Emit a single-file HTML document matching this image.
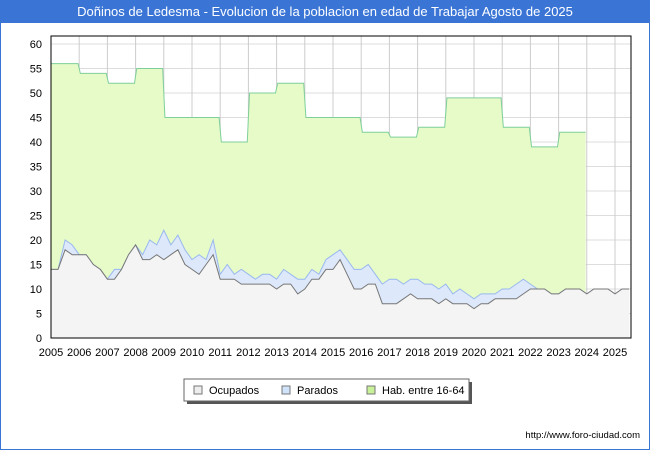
<!DOCTYPE html>
<html><head><meta charset="utf-8"><style>
body{margin:0;background:#fff;font-family:"Liberation Sans","DejaVu Sans",sans-serif}
#wrap{position:relative;width:648px;height:448px;border:1px solid #3a75d6;overflow:hidden}
#title{position:absolute;left:0;top:0;width:648px;height:22px;background:#3a75d6;color:#fff;font-size:13px;text-align:center;line-height:22px}
svg{position:absolute;left:0;top:0}
text{font-family:"Liberation Sans",sans-serif}
</style></head><body>
<div id="wrap">
<div id="title">Doñinos de Ledesma - Evolucion de la poblacion en edad de Trabajar Agosto de 2025</div>
<svg id="svg" width="650" height="450"></svg>
</div>
<script>
const years=[2005,2006,2007,2008,2009,2010,2011,2012,2013,2014,2015,2016,2017,2018,2019,2020,2021,2022,2023];
const habValues=[56,54,52,55,45,45,40,50,52,45,45,42,41,43,49,49,43,39,42];
const ocupados=[14,14,18,17,17,17,15,14,12,12,14,17,19,16,16,17,16,17,18,15,14,13,15,17,12,12,12,11,11,11,11,11,10,11,11,9,10,12,12,14,14,16,13,10,10,11,11,7,7,7,8,9,8,8,8,7,8,7,7,7,6,7,7,8,8,8,8,9,10,10,10,9,9,10,10,10,9,10,10,10,9,10,10];
const totalActivos=[14,14,20,19,17,17,15,14,12,14,14,17,19,17,20,19,22,19,21,18,16,17,16,20,13,15,13,14,13,12,13,13,12,14,13,12,12,14,13,16,17,18,16,14,14,15,13,11,12,12,11,12,12,11,11,10,11,9,10,9,8,9,9,9,10,10,11,12,11,10,10,9,9,10,10,10,9,10,10,10,9,10,10];
const yTicks=[0,5,10,15,20,25,30,35,40,45,50,55,60];
const xTicks=[2005,2006,2007,2008,2009,2010,2011,2012,2013,2014,2015,2016,2017,2018,2019,2020,2021,2022,2023,2024,2025];
const L=50,R=630,T=35,B=337;
const X=t=>L+(t-2005)*28.2;
const Y=v=>B-v*(294/60);
const svg=document.getElementById('svg');
const NS='http://www.w3.org/2000/svg';
function mk(tag,attrs,parent){const e=document.createElementNS(NS,tag);for(const k in attrs)e.setAttribute(k,attrs[k]);(parent||svg).appendChild(e);return e;}
mk('rect',{x:L,y:T,width:R-L,height:B-T,fill:'#fff'});
const grid=mk('g',{});


yTicks.forEach(v=>{mk('line',{x1:L,x2:R,y1:Y(v),y2:Y(v),stroke:'#dddddd'},grid);
 const t=mk('text',{x:L-9,y:Y(v)+4,'text-anchor':'end','font-size':11,fill:'#000'});t.textContent=v;
 
 });
xTicks.forEach(yr=>{mk('line',{x1:X(yr),x2:X(yr),y1:T,y2:B,stroke:'#cccccc'},grid);
 const t=mk('text',{x:X(yr),y:B+18,'text-anchor':'middle','font-size':11,fill:'#000'});t.textContent=yr;
 
 });
let hp=[];years.forEach((yr,i)=>{hp.push([X(yr+0.04),Y(habValues[i])]);hp.push([X(yr+0.96),Y(habValues[i])]);});
hp[0][0]=X(years[0]);
const hLine=hp.map(p=>p.join(',')).join(' ');
const hab=mk('polygon',{points:`${X(years[0])},${Y(0)} ${hLine} ${X(years[years.length-1]+0.96)},${Y(0)}`,fill:'#e6fbc8',stroke:'none'});


const habL=mk('polyline',{points:hLine,fill:'none',stroke:'#7fcf9a','stroke-width':1});


const q=i=>2005+i*0.25;
const tp=totalActivos.map((v,i)=>[X(q(i)),Y(v)]);
const op=ocupados.map((v,i)=>[X(q(i)),Y(v)]);
const tS=tp.map(p=>p.join(',')).join(' '), oS=op.map(p=>p.join(',')).join(' ');
const par=mk('polygon',{points:`${X(q(0))},${Y(0)} ${tS} ${X(q(totalActivos.length-1))},${Y(0)}`,fill:'#dde9fb'});


const parL=mk('polyline',{points:tS,fill:'none',stroke:'#9ab8ee','stroke-width':1});


const oc=mk('polygon',{points:`${X(q(0))},${Y(0)} ${oS} ${X(q(ocupados.length-1))},${Y(0)}`,fill:'#f4f4f4'});


const ocL=mk('polyline',{points:oS,fill:'none',stroke:'#777','stroke-width':1});


const fr=mk('rect',{x:L,y:T,width:R-L,height:B-T,fill:'none',stroke:'#000'});


const lg=mk('g',{});


mk('rect',{x:186,y:381,width:285,height:22,fill:'#555'},lg);
mk('rect',{x:183,y:378,width:285,height:22,fill:'#fff',stroke:'#666'},lg);
[['Ocupados','#eeeeee',193],['Parados','#cfe3fb',281],['Hab. entre 16-64','#c8f29a',366]].forEach(([n,c,x])=>{
 const g=mk('g',{},lg);
 
 
 mk('rect',{x:x,y:385,width:8,height:8,fill:c,stroke:'#777'},g);
 const t=mk('text',{x:x+15,y:393,'font-size':11,fill:'#000'},g);t.textContent=n;});
const u=mk('text',{x:639,y:437,'text-anchor':'end','font-size':9.5,fill:'#000'});u.textContent='http://www.foro-ciudad.com';


</script>
</body></html>
